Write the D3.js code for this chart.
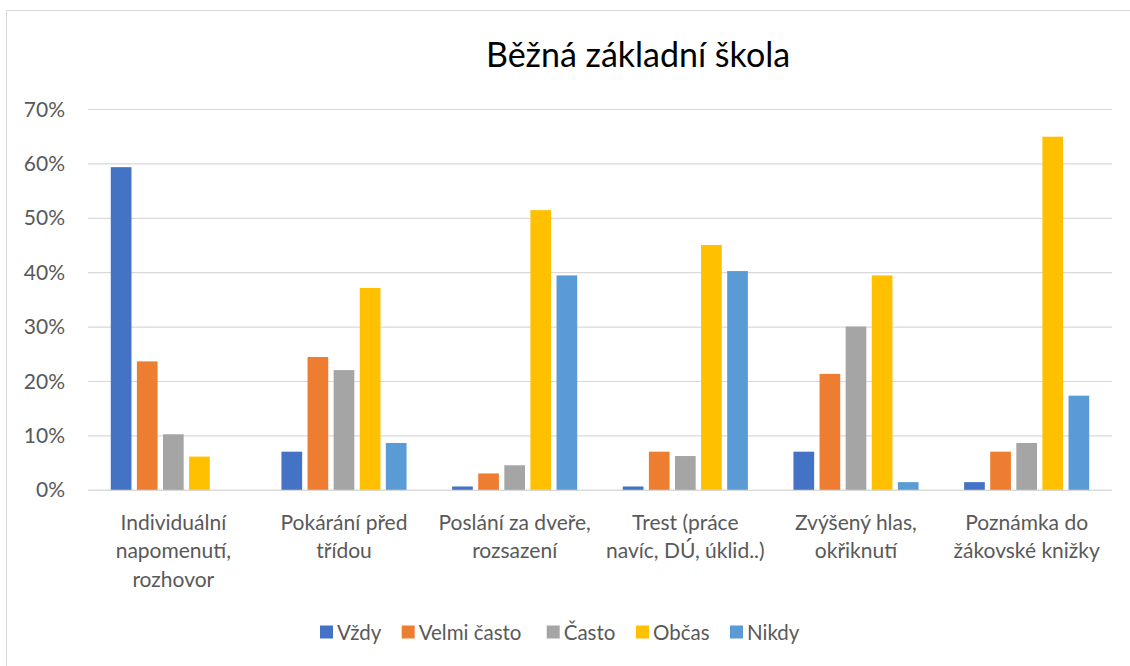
<!DOCTYPE html>
<html>
<head>
<meta charset="utf-8">
<script src="https://cdnjs.cloudflare.com/ajax/libs/d3/7.8.5/d3.min.js"></script>
<style>
  body { margin: 0; background: #fff; }
  text { font-family: Lato, "Open Sans", sans-serif; fill: #595959; }
</style>
</head>
<body>
<div id="viz"></div>
<script>
// kategorie (radky oddelene \n jako v popiskach osy)
let categories = [
  "Individuální\nnapomenutí,\nrozhovor",
  "Pokárání před\ntřídou",
  "Poslání za dveře,\nrozsazení",
  "Trest (práce\nnavíc, DÚ, úklid..)",
  "Zvýšený hlas,\nokřiknutí",
  "Poznámka do\nžákovské knižky"
];
let series = ['Vždy', 'Velmi často', 'Často', 'Občas', 'Nikdy'];
let colors = ['#4472C4', '#ED7D31', '#A5A5A5', '#FFC000', '#5B9BD5'];

// hodnoty v procentech, jedna rada na serii
let vzdy       = [59.4, 7.1, 0.7, 0.7, 7.1, 1.5];
let velmiCasto = [23.7, 24.5, 3.1, 7.1, 21.4, 7.1];
let casto      = [10.3, 22.1, 4.6, 6.3, 30.1, 8.7];
let obcas      = [6.2, 37.2, 51.5, 45.1, 39.5, 65.0];
let nikdy      = [0, 8.7, 39.5, 40.3, 1.5, 17.4];
let yTicks = [0, 10, 20, 30, 40, 50, 60, 70];

let values = [vzdy, velmiCasto, casto, obcas, nikdy];

let width = 1130, height = 666;
let plotLeft = 88, plotRight = 1112, plotTop = 109.5, plotBottom = 490.3;

let svg = d3.select('#viz')
  .append('svg')
  .attr('width', width)
  .attr('height', height);

// ramecek grafu
svg.append('rect')
  .attr('x', 6.5).attr('y', 10.5)
  .attr('width', 1140).attr('height', 680)
  .attr('fill', 'none')
  .attr('stroke', '#d9d9d9')
  .attr('stroke-width', 1);

svg.append('text')
  .attr('x', 638).attr('y', 67)
  .style('text-anchor', 'middle')
  .style('font-size', '34px')
  .style('fill', '#000')
  .text('Běžná základní škola');

let x0 = d3.scaleBand().domain(d3.range(categories.length)).range([plotLeft, plotRight]);
let x1 = d3.scaleBand().domain(series).range([0, x0.bandwidth()])
  .paddingInner(0.207).paddingOuter(0.873);
let y = d3.scaleLinear().domain([0, 70]).range([plotBottom, plotTop]);

// mrizka
svg.selectAll('.grid')
  .data(yTicks)
  .enter().append('line')
  .attr('x1', plotLeft).attr('x2', plotRight)
  .attr('y1', function(d) { return y(d); })
  .attr('y2', function(d) { return y(d); })
  .attr('stroke', '#d9d9d9')
  .attr('stroke-width', 1.2);

svg.selectAll('.ytick')
  .data(yTicks)
  .enter().append('text')
  .attr('x', 65)
  .attr('y', function(d) { return y(d) + 7; })
  .style('text-anchor', 'end')
  .style('font-size', '21px')
  .text(function(d) { return d + '%'; });

for (let j = 0; j < series.length; j++) {
  svg.selectAll('.bar' + j)
    .data(values[j])
    .enter().append('rect')
    .attr('x', function(d, i) { return x0(i) + x1(series[j]); })
    .attr('width', x1.bandwidth())
    .attr('y', function(d) { return y(d); })
    .attr('height', function(d) { return plotBottom - y(d); })
    .attr('fill', colors[j]);
}

// osa x
svg.append('line')
  .attr('x1', plotLeft).attr('x2', plotRight)
  .attr('y1', plotBottom).attr('y2', plotBottom)
  .attr('stroke', '#d9d9d9').attr('stroke-width', 1.2);

categories.forEach(function(c, i) {
  let t = svg.append('text')
    .attr('x', x0(i) + x0.bandwidth() / 2)
    .attr('y', 529.5)
    .style('text-anchor', 'middle')
    .style('font-size', '21px');
  c.split('\n').forEach(function(line, k) {
    t.append('tspan')
      .attr('x', x0(i) + x0.bandwidth() / 2)
      .attr('dy', k == 0 ? 0 : 28.5)
      .text(line);
  });
});

// legenda
let legendX = [320, 401.7, 546.7, 636, 730];
series.forEach(function(s, j) {
  svg.append('rect')
    .attr('x', legendX[j]).attr('y', 625.5)
    .attr('width', 13).attr('height', 13)
    .attr('fill', colors[j]);
  svg.append('text')
    .attr('x', legendX[j] + 17).attr('y', 639.5)
    .style('font-size', '20.5px')
    .text(s);
});
</script>
</body>
</html>
